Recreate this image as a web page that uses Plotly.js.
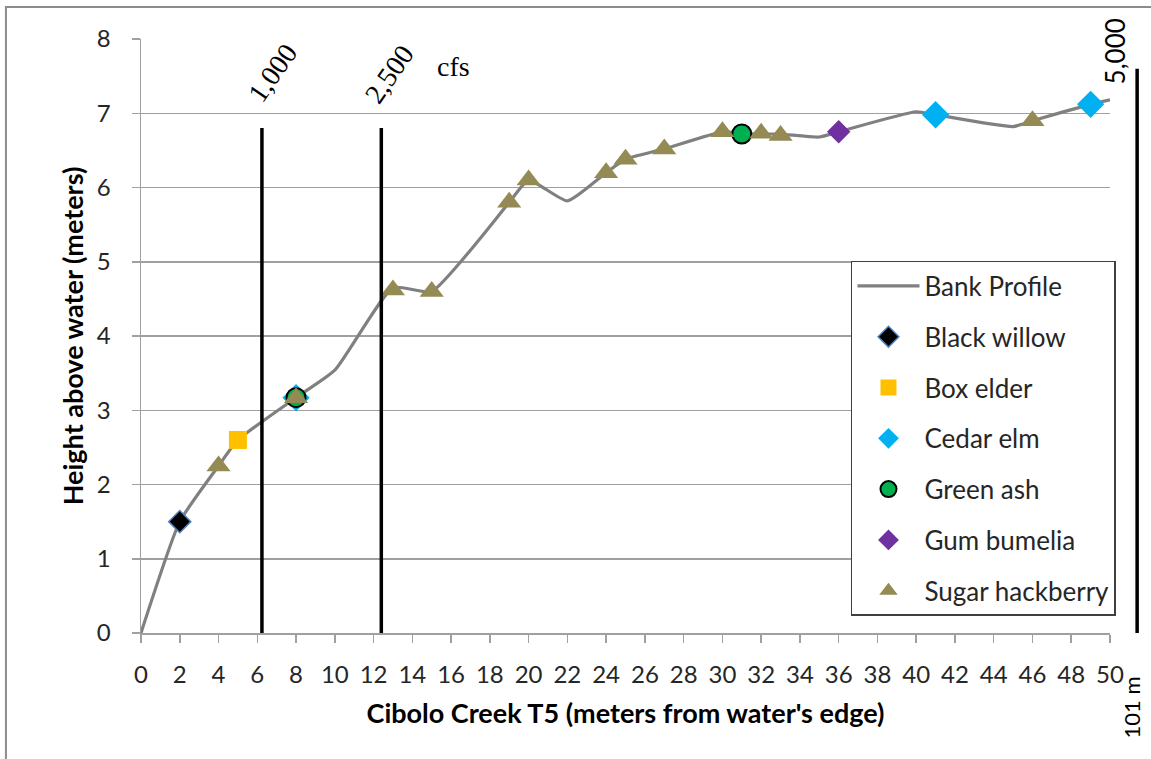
<!DOCTYPE html>
<html>
<head>
<meta charset="utf-8">
<script src="https://cdn.plot.ly/plotly-3.0.1.min.js"></script>
<style>
  html, body { margin: 0; padding: 0; background: #fff; }
  #chart { width: 1151px; height: 759px; }
</style>
</head>
<body>
<div id="chart"></div>
<script>
// ---- Data ----
const profileX = [0, 2, 4, 5, 8, 10, 13, 15, 19, 20, 22, 24, 25, 27, 30, 31, 32, 33, 35, 36, 40, 41, 45, 46, 49, 50];
const profileY = [0, 1.5, 2.25, 2.6, 3.17, 3.54, 4.65, 4.6, 5.8, 6.1, 5.82, 6.2, 6.38, 6.52, 6.75, 6.73, 6.72, 6.72, 6.68, 6.75, 7.02, 6.98, 6.82, 6.9, 7.12, 7.18];

const blackWillowX = [2];
const blackWillowY = [1.5];
const boxElderX = [5];
const boxElderY = [2.6];
const cedarElmX = [8, 41, 49];
const cedarElmY = [3.17, 6.98, 7.12];
const greenAshX = [8, 31];
const greenAshY = [3.17, 6.72];
const gumBumeliaX = [36];
const gumBumeliaY = [6.75];
const sugarHackberryX = [4, 8, 13, 15, 19, 20, 24, 25, 27, 30, 32, 33, 46];
const sugarHackberryY = [2.25, 3.17, 4.62, 4.6, 5.8, 6.1, 6.2, 6.38, 6.52, 6.75, 6.73, 6.7, 6.9];

// flood stage lines (cfs) : position along transect (m) and top height (m)
const flowLabels = ['1,000', '2,500', '5,000'];
const flowX = [6.24, 12.4, 51.4];
const flowTop = [6.8, 6.8, 7.6];

const xTickVals = [0,2,4,6,8,10,12,14,16,18,20,22,24,26,28,30,32,34,36,38,40,42,44,46,48,50];
const yTickVals = [0,1,2,3,4,5,6,7,8];

const X_RANGE = [0, 50];
const Y_RANGE = [0, 8];

// ---- Traces ----
const grp = (i) => 'g' + i;
const traces = [
  { name: 'Bank Profile', x: profileX, y: profileY, type: 'scatter', mode: 'lines',
    line: { color: '#808080', width: 3.2, shape: 'spline', smoothing: 0.5 }, legendgroup: grp(0) },
  { name: 'Black willow', x: blackWillowX, y: blackWillowY, type: 'scatter', mode: 'markers',
    marker: { symbol: 'diamond', size: 17, color: '#000000', line: { color: '#4f81bd', width: 1.5 } }, legendgroup: grp(1) },
  { name: 'Box elder', x: boxElderX, y: boxElderY, type: 'scatter', mode: 'markers',
    marker: { symbol: 'square', size: 18, color: '#FFC000' }, legendgroup: grp(2) },
  { name: 'Cedar elm', x: cedarElmX, y: cedarElmY, type: 'scatter', mode: 'markers',
    marker: { symbol: 'diamond', size: 21, color: '#00B0F0' }, legendgroup: grp(3) },
  { name: 'Green ash', x: greenAshX, y: greenAshY, type: 'scatter', mode: 'markers',
    marker: { symbol: 'circle', size: 19, color: '#00B050', line: { color: '#000000', width: 2 } }, legendgroup: grp(4) },
  { name: 'Gum bumelia', x: gumBumeliaX, y: gumBumeliaY, type: 'scatter', mode: 'markers',
    marker: { symbol: 'diamond', size: 18, color: '#7030A0' }, legendgroup: grp(5) },
  { name: 'Sugar hackberry', x: sugarHackberryX, y: sugarHackberryY, type: 'scatter', mode: 'markers',
    marker: { symbol: 'triangle-up', size: 21, color: '#948A54' }, legendgroup: grp(6) }
];

// ---- Shapes: flow lines + outer border ----
const shapes = flowX.map((fx, i) => {
  const inRange = fx <= X_RANGE[1];
  return {
    type: 'line', layer: 'above',
    xref: inRange ? 'x' : 'paper', yref: 'y',
    x0: inRange ? fx : (fx - X_RANGE[0]) / (X_RANGE[1] - X_RANGE[0]),
    x1: inRange ? fx : (fx - X_RANGE[0]) / (X_RANGE[1] - X_RANGE[0]),
    y0: 0, y1: flowTop[i],
    line: { color: '#000000', width: 3.5 }
  };
});
shapes.push({
  type: 'rect', xref: 'paper', yref: 'paper', layer: 'below',
  x0: -0.1394, x1: 1.08, y0: -0.3, y1: 1.0539,
  line: { color: '#8c8c8c', width: 2 }, fillcolor: 'rgba(0,0,0,0)'
});

// ---- Annotations ----
const serif = 'Liberation Serif, Times New Roman, serif';
const sans = 'Lato, Carlito, Calibri, sans-serif';
const annotations = [
  { text: flowLabels[0], xref: 'x', yref: 'y', x: flowX[0] + 0.52, y: 7.54, showarrow: false,
    textangle: -55, xanchor: 'center', yanchor: 'middle', font: { family: serif, size: 28, color: '#000' } },
  { text: flowLabels[1], xref: 'x', yref: 'y', x: flowX[1] + 0.4, y: 7.52, showarrow: false,
    textangle: -55, xanchor: 'center', yanchor: 'middle', font: { family: serif, size: 28, color: '#000' } },
  { text: 'cfs', xref: 'x', yref: 'y', x: 16.1, y: 7.63, showarrow: false,
    xanchor: 'center', yanchor: 'middle', font: { family: serif, size: 28, color: '#000' } },
  { text: flowLabels[2], xref: 'paper', yref: 'paper', x: 1.0056, y: 0.9798, showarrow: false,
    textangle: -90, xanchor: 'center', yanchor: 'middle', font: { family: sans, size: 26, color: '#000' } },
  { text: '101 m', xref: 'paper', yref: 'paper', x: 1.0217, y: -0.1254, showarrow: false,
    textangle: -90, xanchor: 'center', yanchor: 'middle', font: { family: sans, size: 22, color: '#000' } }
];

const gridColor = '#a0a0a0';
const layout = {
  width: 1151, height: 759,
  margin: { l: 141, r: 41, t: 39, b: 126 },
  paper_bgcolor: '#ffffff', plot_bgcolor: '#ffffff',
  font: { family: sans, color: '#262626' },
  showlegend: true,
  legend: {
    x: 0.7327, y: 0.6263, xanchor: 'left', yanchor: 'top',
    bgcolor: '#ffffff', bordercolor: '#404040', borderwidth: 1.5,
    font: { family: sans, size: 26, color: '#262626' },
    traceorder: 'grouped', tracegroupgap: 14, itemwidth: 62
  },
  xaxis: {
    range: X_RANGE, tickvals: xTickVals, ticktext: xTickVals.map(String),
    showgrid: false, zeroline: false,
    showline: true, linecolor: gridColor, linewidth: 1.5,
    ticks: 'outside', ticklen: 8, tickcolor: gridColor, tickwidth: 1.5,
    ticklabelstandoff: 12,
    tickfont: { family: sans, size: 24, color: '#262626' },
    title: { text: "Cibolo Creek T5 (meters from water's edge)", standoff: 17,
             font: { family: sans, size: 27, color: '#000', weight: 'bold' } }
  },
  yaxis: {
    range: Y_RANGE, tickvals: yTickVals, ticktext: yTickVals.map(String),
    showgrid: true, gridcolor: gridColor, gridwidth: 1.5, zeroline: false,
    showline: true, linecolor: gridColor, linewidth: 1.5,
    ticks: 'outside', ticklen: 8, tickcolor: gridColor, tickwidth: 1.5,
    ticklabelstandoff: 16,
    tickfont: { family: sans, size: 24, color: '#262626' },
    title: { text: 'Height above water (meters)', standoff: 5,
             font: { family: sans, size: 27, color: '#000', weight: 'bold' } }
  },
  shapes: shapes,
  annotations: annotations
};

Plotly.newPlot('chart', traces, layout, { staticPlot: true, displayModeBar: false });
</script>
</body>
</html>
